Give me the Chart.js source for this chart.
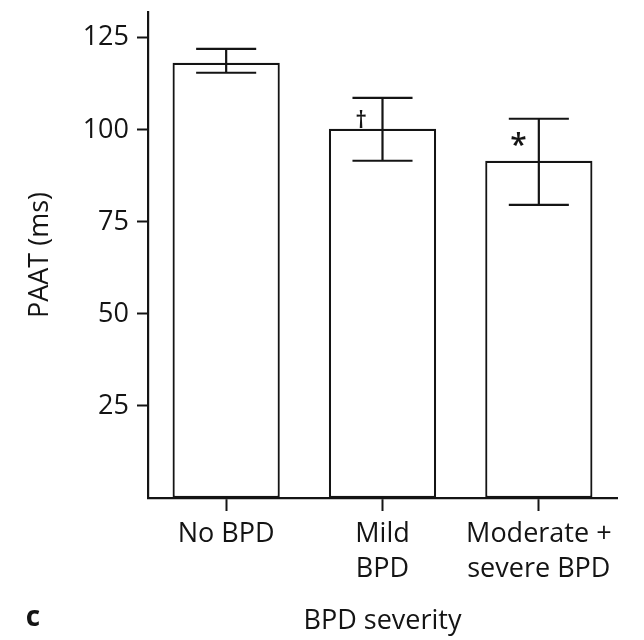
<!DOCTYPE html>
<html><head><meta charset="utf-8">
<script src="https://cdn.jsdelivr.net/npm/chart.js@4.4.1/dist/chart.umd.min.js"></script>
<style>html,body{margin:0;padding:0;background:#fff}#wrap{width:644px;height:640px;position:relative}</style>
</head><body><div id="wrap"><canvas id="c" width="644" height="640"></canvas></div>
<script>
// ---- data ----
const categories = [['No BPD'], ['Mild', 'BPD'], ['Moderate +', 'severe BPD']];
const meanValues = [118.2, 100.3, 91.6];
const errorLow = [115.5, 91.6, 79.6];
const errorHigh = [122.0, 108.7, 103.0];
const significance = ['', '\u2020', '*'];
const yTicks = [25, 50, 75, 100, 125];
const yAxisTitle = 'PAAT (ms)';
const xAxisTitle = 'BPD severity';
const panelLabel = 'c';

const FONT = '"Open Sans", "Noto Sans", sans-serif';
const INK = '#141414';

const errorBarPlugin = {
  id: 'errorBars',
  afterDatasetsDraw(chart) {
    const ctx = chart.ctx;
    const meta = chart.getDatasetMeta(0);
    const ys = chart.scales.y;
    ctx.save();
    ctx.strokeStyle = INK;
    ctx.lineWidth = 2.2;
    meta.data.forEach((bar, i) => {
      const x = bar.x;
      const half = bar.width * 0.28;
      const yl = ys.getPixelForValue(errorLow[i]);
      const yh = ys.getPixelForValue(errorHigh[i]);
      ctx.beginPath();
      ctx.moveTo(x, yl); ctx.lineTo(x, yh);
      ctx.moveTo(x - half, yl); ctx.lineTo(x + half, yl);
      ctx.moveTo(x - half, yh); ctx.lineTo(x + half, yh);
      ctx.stroke();
      const mark = significance[i];
      if (mark) {
        const top = ys.getPixelForValue(meanValues[i]);
        ctx.fillStyle = INK;
        ctx.textAlign = 'center';
        ctx.textBaseline = 'alphabetic';
        if (mark === '*') {
          ctx.font = '600 30px ' + FONT;
          ctx.fillText(mark, x - bar.width * 0.19, top - 6);
        } else {
          ctx.font = '600 23px ' + FONT;
          ctx.fillText(mark, x - bar.width * 0.2, top - 0.5);
        }
      }
    });
    ctx.restore();
  }
};

const panelPlugin = {
  id: 'panelLabel',
  afterDraw(chart) {
    const ctx = chart.ctx;
    ctx.save();
    ctx.fillStyle = INK;
    ctx.font = 'bold 28px ' + FONT;
    ctx.textAlign = 'center';
    ctx.textBaseline = 'middle';
    ctx.fillText(panelLabel, 33, 618);
    ctx.restore();
  }
};

new Chart(document.getElementById('c'), {
  type: 'bar',
  data: {
    labels: categories,
    datasets: [{
      data: meanValues,
      backgroundColor: '#ffffff',
      borderColor: INK,
      borderWidth: 2.2,
      borderSkipped: false,
      categoryPercentage: 1.0,
      barPercentage: 0.686
    }]
  },
  options: {
    responsive: false,
    animation: false,
    layout: { padding: { top: 12, right: 27, bottom: 0, left: 0 } },
    plugins: { legend: { display: false }, tooltip: { enabled: false } },
    scales: {
      x: {
        grid: { display: true, drawOnChartArea: false, offset: false, tickLength: 13, tickWidth: 2, tickColor: INK },
        border: { display: true, color: INK, width: 2.2 },
        ticks: { color: INK, font: { family: FONT, size: 27, lineHeight: 1.3 }, padding: 6, maxRotation: 0, autoSkip: false },
        title: { display: true, text: xAxisTitle, color: INK, font: { family: FONT, size: 27, lineHeight: 1.2 }, padding: { top: 0, bottom: 2 } },
        afterFit(s) { s.height = 142; s.paddingLeft = 0; s.paddingRight = 0; }
      },
      y: {
        min: 0, max: 132,
        afterBuildTicks(s) { s.ticks = yTicks.map(v => ({ value: v })); },
        grid: { display: true, drawOnChartArea: false, tickLength: 11, tickWidth: 2, tickColor: INK },
        border: { display: true, color: INK, width: 2.2 },
        ticks: { color: INK, font: { family: FONT, size: 27 }, padding: 8 },
        title: { display: true, text: yAxisTitle, color: INK, font: { family: FONT, size: 27, lineHeight: 1.2 }, padding: { top: 24, bottom: 0 } },
        afterFit(s) { s.width = 148; s.paddingTop = 0; s.paddingBottom = 0; }
      }
    }
  },
  plugins: [errorBarPlugin, panelPlugin]
});
</script>
</body></html>
